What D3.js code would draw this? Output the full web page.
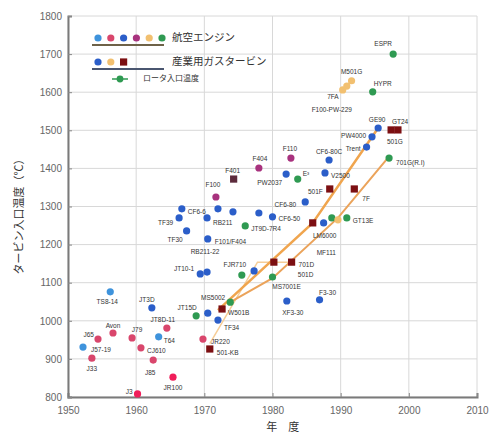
<!DOCTYPE html>
<html>
<head>
<meta charset="utf-8">
<script src="https://cdn.jsdelivr.net/npm/d3@7"></script>
<style>
  body { margin: 0; background: #fff; }
  svg { font-family: "Noto Sans CJK JP", "Noto Sans", sans-serif; }
</style>
</head>
<body>
<svg id="chart" width="491" height="436"></svg>
<script>
// DATA
const yearTicks = [1950, 1960, 1970, 1980, 1990, 2000, 2010];
const tempTicks = [800, 900, 1000, 1100, 1200, 1300, 1400, 1500, 1600, 1700, 1800];

// aero engines
const aeroLightBlue = [
  { name: "J57-19", year: 1952.2, tit: 931 },
  { name: "TS8-14", year: 1956.2, tit: 1076 },
  { name: "T64", year: 1963.3, tit: 958 },
];
const aeroPink = [
  { name: "J65", year: 1954.4, tit: 952 },
  { name: "J33", year: 1953.5, tit: 902 },
  { name: "Avon", year: 1956.6, tit: 968 },
  { name: "J79", year: 1959.4, tit: 955 },
  { name: "CJ610", year: 1960.7, tit: 929 },
  { name: "J85", year: 1962.5, tit: 897 },
  { name: "JT8D-11", year: 1964.5, tit: 981 },
  { name: "JR220", year: 1969.8, tit: 952 },
];
const aeroRed = [
  { name: "J3", year: 1960.2, tit: 808 },
  { name: "JR100", year: 1965.4, tit: 852 },
];
const aeroBlue = [
  { name: "JT3D", year: 1962.3, tit: 1034 },
  { name: "CF6-6", year: 1966.7, tit: 1294 },
  { name: "", year: 1972.0, tit: 1294 },
  { name: "", year: 1974.2, tit: 1286 },
  { name: "TF39", year: 1966.3, tit: 1270 },
  { name: "RB211", year: 1970.4, tit: 1270 },
  { name: "TF30", year: 1967.4, tit: 1236 },
  { name: "F101/F404", year: 1970.5, tit: 1215 },
  { name: "JT10-1", year: 1969.4, tit: 1123 },
  { name: "RB211-22", year: 1970.4, tit: 1128 },
  { name: "", year: 1970.5, tit: 1020 },
  { name: "TF34", year: 1972.0, tit: 1002 },
  { name: "", year: 1977.3, tit: 1131 },
  { name: "XF3-30", year: 1982.1, tit: 1052 },
  { name: "F3-30", year: 1986.9, tit: 1055 },
  { name: "CF6-80", year: 1984.8, tit: 1312 },
  { name: "", year: 1978.0, tit: 1283 },
  { name: "CF6-50", year: 1980.0, tit: 1273 },
  { name: "PW2037", year: 1982.0, tit: 1385 },
  { name: "V2500", year: 1987.7, tit: 1388 },
  { name: "CF6-80C", year: 1988.3, tit: 1422 },
  { name: "LM6000", year: 1987.5, tit: 1257 },
  { name: "Trent", year: 1993.8, tit: 1456 },
  { name: "PW4000", year: 1994.6, tit: 1483 },
  { name: "GE90", year: 1995.5, tit: 1506 },
];
const aeroPurple = [
  { name: "F404", year: 1978.0, tit: 1401 },
  { name: "F110", year: 1982.7, tit: 1427 },
  { name: "F100", year: 1971.7, tit: 1325 },
];
const aeroDarkPurple = [{ name: "F401", year: 1974.3, tit: 1372 }];
const aeroGreen = [
  { name: "JT9D-7R4", year: 1976.0, tit: 1249 },
  { name: "E³", year: 1983.7, tit: 1372 },
  { name: "FJR710", year: 1975.5, tit: 1120 },
  { name: "MS5002", year: 1973.8, tit: 1049 },
  { name: "JT15D", year: 1968.8, tit: 1013 },
  { name: "MS7001E", year: 1980.0, tit: 1115 },
  { name: "", year: 1988.7, tit: 1270 },
  { name: "GT13E", year: 1990.9, tit: 1270 },
  { name: "701G(R.I)", year: 1997.1, tit: 1427 },
  { name: "HYPR", year: 1994.7, tit: 1601 },
  { name: "ESPR", year: 1997.7, tit: 1700 },
];
// industrial gas turbines
const indDarkRed = [
  { name: "501-KB", year: 1970.8, tit: 926 },
  { name: "W501B", year: 1972.6, tit: 1031 },
  { name: "501D", year: 1980.2, tit: 1154 },
  { name: "701D", year: 1982.8, tit: 1154 },
  { name: "MF111", year: 1985.9, tit: 1257 },
  { name: "501F", year: 1988.4, tit: 1346 },
  { name: "7F", year: 1992.0, tit: 1346 },
  { name: "GT24", year: 1997.4, tit: 1501 },
  { name: "501G", year: 1998.4, tit: 1501 },
];
const indOrange = [
  { name: "7FA", year: 1990.3, tit: 1606 },
  { name: "F100-PW-229", year: 1990.9, tit: 1616 },
  { name: "M501G", year: 1991.6, tit: 1630 },
  { name: "", year: 1989.6, tit: 1265 },
];

// trend lines
const titTrend = [[1972.0, 1028], [1985.9, 1257], [1995.3, 1501]];
const rotorTrend = [[1973.8, 1049], [1980.0, 1112], [1989.6, 1270], [1996.9, 1427]];
const lightTrend = [[1970.8, 940], [1977.8, 1154], [1982.8, 1154]];
const topTrend = [[1990.3, 1606], [1991.6, 1630]];

// label placement: [dx, dy, anchor]
const labelPos = {
  "J57-19": [8, 3, "start"], "TS8-14": [-3, 10, "middle"], "T64": [5, 4, "start"],
  "J65": [-4, -4, "end"], "J33": [0, 11, "middle"], "Avon": [0, -7, "middle"],
  "J79": [5, -8, "middle"], "CJ610": [6, 3, "start"], "J85": [-3, 13, "middle"],
  "JT8D-11": [-4, -8, "middle"], "JR220": [8, 3, "start"],
  "J3": [-5, -2, "end"], "JR100": [0, 11, "middle"],
  "JT3D": [-5, -8, "middle"], "CF6-6": [6, 3, "start"], "TF39": [-6, 5, "end"],
  "RB211": [6, 5, "start"], "TF30": [-4, 9, "end"], "F101/F404": [7, 3, "start"],
  "JT10-1": [-6, -5, "end"], "RB211-22": [-2, -20, "middle"], "TF34": [6, 8, "start"],
  "XF3-30": [6, 12, "middle"], "F3-30": [8, -7, "middle"], "CF6-80": [-9, 3, "end"],
  "CF6-50": [6, 2, "start"], "PW2037": [-4, 9, "end"], "V2500": [6, 3, "start"],
  "CF6-80C": [0, -8, "middle"], "LM6000": [1, 13, "middle"], "Trent": [-6, 2, "end"],
  "PW4000": [-6, 0, "end"], "GE90": [-1, -8, "middle"],
  "F404": [1, -9, "middle"], "F110": [-1, -9, "middle"], "F100": [-3, -12, "middle"],
  "F401": [-1, -8, "middle"],
  "JT9D-7R4": [6, 3, "start"], "E³": [5, -5, "start"], "FJR710": [-7, -10, "middle"],
  "MS5002": [-5, -4, "end"], "JT15D": [-9, -8, "middle"], "MS7001E": [14, 10, "middle"],
  "GT13E": [6, 3, "start"], "701G(R.I)": [7, 5, "start"], "HYPR": [10, -8, "middle"],
  "ESPR": [-10, -10, "middle"],
  "501-KB": [7, 4, "start"], "W501B": [6, 4, "start"], "501D": [24, 13, "start"],
  "701D": [7, 3, "start"], "MF111": [4, 30, "start"], "501F": [-7, 3, "end"],
  "7F": [8, 10, "start"], "GT24": [9, -8, "middle"], "501G": [-3, 12, "middle"],
  "7FA": [-4, 7, "end"], "F100-PW-229": [-15, 24, "middle"], "M501G": [0, -8, "middle"],
};

// CANVAS SETUP
const svg = d3.select("#chart");
const margin = { top: 16, right: 14, bottom: 39, left: 68 },
  width = 491 - margin.left - margin.right,
  height = 436 - margin.top - margin.bottom;

const x = d3.scaleLinear().domain([1950, 2010]).range([margin.left, margin.left + width]);
const y = d3.scaleLinear().domain([800, 1800]).range([margin.top + height, margin.top]);

// grid
const grid = svg.append("g").attr("stroke", "#d8d8d8").attr("stroke-width", 1);
grid.selectAll("line.v").data(yearTicks).join("line")
  .attr("x1", (d) => x(d)).attr("x2", (d) => x(d))
  .attr("y1", y(800)).attr("y2", y(1800));
grid.selectAll("line.h").data(tempTicks).join("line")
  .attr("class", "h")
  .attr("x1", x(1950)).attr("x2", x(2010))
  .attr("y1", (d) => y(d)).attr("y2", (d) => y(d));

// axes
const gx = svg.append("g").attr("transform", `translate(0,${y(800)})`)
  .call(d3.axisBottom(x).tickValues(yearTicks).tickFormat(d3.format("d")).tickSize(-4).tickPadding(10));
const gy = svg.append("g").attr("transform", `translate(${x(1950)},0)`)
  .call(d3.axisLeft(y).tickValues(tempTicks).tickFormat(d3.format("d")).tickSize(-4).tickPadding(6));
[gx, gy].forEach((g) => {
  g.select(".domain").attr("stroke", "#7a7a7a").attr("stroke-width", 2);
  g.selectAll(".tick line").attr("stroke", "#888");
  g.selectAll("text").attr("fill", "#666").attr("font-size", 10)
    .attr("font-family", "'Liberation Sans', sans-serif");
});

// titles
svg.append("text")
  .attr("transform", `translate(20,${y(1280)}) rotate(-90)`)
  .attr("text-anchor", "middle").attr("dominant-baseline", "middle")
  .attr("font-size", 11).attr("fill", "#333")
  .text("タービン入口温度（℃）");
svg.append("text")
  .attr("x", x(1981.5)).attr("y", 428)
  .attr("text-anchor", "middle").attr("dominant-baseline", "middle")
  .attr("font-size", 11).attr("fill", "#333")
  .text("年　度");

// trend lines
const line = d3.line().x((d) => x(d[0])).y((d) => y(d[1]));
const gl = svg.append("g").attr("fill", "none");
gl.append("path").datum(lightTrend).attr("d", line).attr("stroke", "#f6cd96").attr("stroke-width", 1.5);
gl.append("path").datum(rotorTrend).attr("d", line).attr("stroke", "#eba35a").attr("stroke-width", 2);
gl.append("path").datum(titTrend).attr("d", line).attr("stroke", "#f0a54e").attr("stroke-width", 2.5);
gl.append("path").datum(topTrend).attr("d", line).attr("stroke", "#f6c883").attr("stroke-width", 2);

// markers
const series = [
  { data: aeroLightBlue, color: "#3e93dc", shape: "circle" },
  { data: aeroPink, color: "#d9466c", shape: "circle" },
  { data: aeroRed, color: "#f01e5a", shape: "circle" },
  { data: aeroBlue, color: "#2b5ec9", shape: "circle" },
  { data: aeroPurple, color: "#a8327e", shape: "circle" },
  { data: aeroDarkPurple, color: "#5c2a3c", shape: "square" },
  { data: aeroGreen, color: "#2f9a52", shape: "circle" },
  { data: indOrange, color: "#f2c070", shape: "circle" },
  { data: indDarkRed, color: "#7c0f12", shape: "square" },
];

const gn = svg.append("g");
series.forEach((s) => {
  const g = gn.append("g").attr("fill", s.color);
  if (s.shape === "circle") {
    g.selectAll("circle").data(s.data).join("circle")
      .attr("cx", (d) => x(d.year)).attr("cy", (d) => y(d.tit)).attr("r", 3.6);
  } else {
    g.selectAll("rect").data(s.data).join("rect")
      .attr("x", (d) => x(d.year) - 3.6).attr("y", (d) => y(d.tit) - 3.6)
      .attr("width", 7.2).attr("height", 7.2);
  }
});

// point labels
const ga = svg.append("g")
  .attr("font-size", 6.5).attr("fill", "#333")
  .attr("font-family", "'Liberation Sans', sans-serif");
series.forEach((s) => {
  ga.selectAll(null).data(s.data.filter((d) => d.name)).join("text")
    .attr("x", (d) => x(d.year) + (labelPos[d.name] || [0, -6])[0])
    .attr("y", (d) => y(d.tit) + (labelPos[d.name] || [0, -6])[1])
    .attr("text-anchor", (d) => (labelPos[d.name] || [0, 0, "middle"])[2])
    .attr("dominant-baseline", "middle")
    .text((d) => d.name);
});

// legend
const legendRows = [
  { colors: ["#3e93dc", "#d9466c", "#2b5ec9", "#a8327e", "#f2c070", "#2f9a52"], label: "航空エンジン", line: "#6e6248", shapes: "circle" },
  { colors: ["#2b5ec9", "#f2c070", "#7c0f12"], label: "産業用ガスタービン", line: "#4a5670", shapes: "mixed" },
];
const lg = svg.append("g");
legendRows.forEach((row, i) => {
  const ry = 38 + i * 24;
  row.colors.forEach((c, j) => {
    const cx = 98 + j * 12.8;
    if (row.shapes === "mixed" && j === 2) {
      lg.append("rect").attr("x", cx - 3.6).attr("y", ry - 3.6).attr("width", 7.2).attr("height", 7.2).attr("fill", c);
    } else {
      lg.append("circle").attr("cx", cx).attr("cy", ry).attr("r", 3.6).attr("fill", c);
    }
  });
  lg.append("line").attr("x1", 92).attr("x2", 164).attr("y1", ry + 7).attr("y2", ry + 7)
    .attr("stroke", row.line).attr("stroke-width", 2);
  lg.append("text").attr("x", 172).attr("y", ry).attr("dominant-baseline", "middle")
    .attr("font-size", 10.5).attr("fill", "#333").text(row.label);
});
lg.append("circle").attr("cx", 120).attr("cy", 79).attr("r", 3.4).attr("fill", "#2f9a52");
lg.append("line").attr("x1", 112).attr("x2", 128).attr("y1", 79).attr("y2", 79)
  .attr("stroke", "#2f9a52").attr("stroke-width", 1.5);
lg.append("text").attr("x", 143).attr("y", 79).attr("dominant-baseline", "middle")
  .attr("font-size", 8).attr("fill", "#333").text("ロータ入口温度");
</script>
</body>
</html>
